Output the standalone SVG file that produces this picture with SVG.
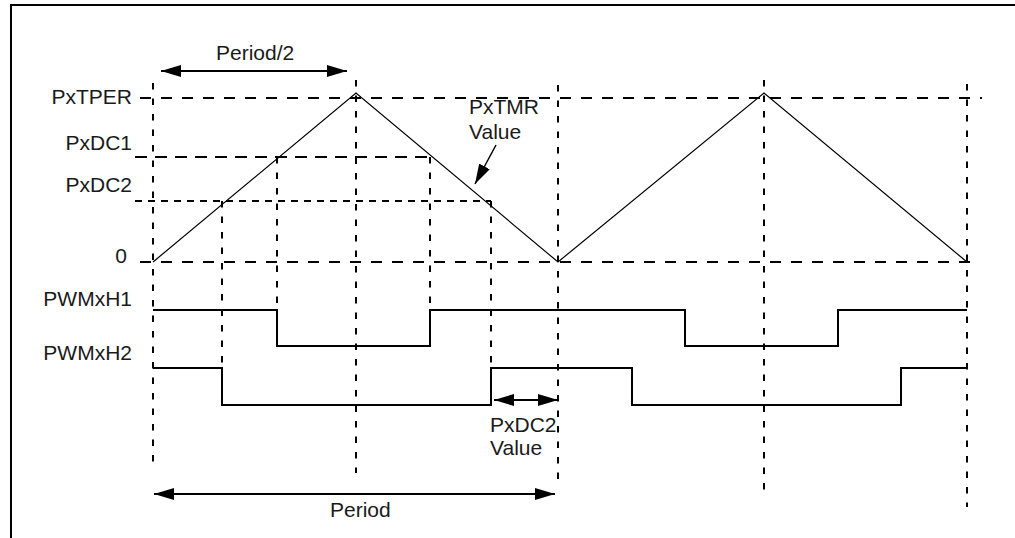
<svg xmlns="http://www.w3.org/2000/svg" width="1015" height="538" viewBox="0 0 1015 538">
<style>
  text { font-family: "Liberation Sans", Arial, sans-serif; font-size: 21px; fill: #1a1a1a; }
  .lbl { text-anchor: end; }
  .frame { stroke: #000; stroke-width: 2; fill: none; }
  .vdot { stroke: #000; stroke-width: 2; stroke-dasharray: 6.5 9; fill: none; }
  .hdash { stroke: #000; stroke-width: 2; stroke-dasharray: 11 10; fill: none; }
  .hdc1 { stroke: #000; stroke-width: 2; stroke-dasharray: 12 8; fill: none; }
  .hdc2 { stroke: #000; stroke-width: 2; stroke-dasharray: 7 6; fill: none; }
  .tri { stroke: #000; stroke-width: 1.2; fill: none; }
  .wave { stroke: #000; stroke-width: 2; fill: none; }
  .dim { stroke: #000; stroke-width: 2; fill: none; marker-start: url(#ah); marker-end: url(#ah); }
  .ptr { stroke: #000; stroke-width: 1.5; fill: none; marker-end: url(#ah); }
</style>
<defs>
  <marker id="ah" markerUnits="userSpaceOnUse" markerWidth="20" markerHeight="12" refX="20" refY="6" orient="auto-start-reverse" viewBox="0 0 20 12">
    <path d="M0,0 L20,6 L0,12 Z" fill="#000"/>
  </marker>
</defs>
<rect width="1015" height="538" fill="#fff"/>
<g id="frame">
  <path class="frame" d="M11,538 L11,5 L1015,5"/>
</g>
<g id="gridlines">
  <line class="vdot" x1="153" y1="83" x2="153" y2="470"/>
  <line class="vdot" x1="222" y1="201" x2="222" y2="405"/>
  <line class="vdot" x1="277" y1="157" x2="277" y2="310"/>
  <line class="vdot" x1="356" y1="80" x2="356" y2="473"/>
  <line class="vdot" x1="430" y1="157" x2="430" y2="310"/>
  <line class="vdot" x1="491" y1="201" x2="491" y2="368"/>
  <line class="vdot" x1="558" y1="85" x2="558" y2="484"/>
  <line class="vdot" x1="764" y1="80" x2="764" y2="493"/>
  <line class="vdot" x1="967" y1="84" x2="967" y2="507"/>
  <line class="hdash" x1="140" y1="98" x2="982" y2="98"/>
  <line class="hdc1" x1="135" y1="157" x2="430" y2="157"/>
  <line class="hdc2" x1="135" y1="201" x2="491" y2="201"/>
  <line class="hdash" x1="140" y1="262" x2="976" y2="262"/>
</g>
<g id="timer">
  <polyline class="tri" points="153,262 356,93 558,262 764,93 967,262"/>
</g>
<g id="pwmxh1">
  <polyline class="wave" points="153,310 277,310 277,346 430,346 430,310 685,310 685,346 838,346 838,310 967,310"/>
</g>
<g id="pwmxh2">
  <polyline class="wave" points="153,368 222,368 222,405 491,405 491,368 632,368 632,405 901,405 901,368 967,368"/>
</g>
<g id="labels">
  <text class="lbl" x="132" y="104">PxTPER</text>
  <text class="lbl" x="132" y="150">PxDC1</text>
  <text class="lbl" x="132" y="192">PxDC2</text>
  <text class="lbl" x="127" y="263">0</text>
  <text class="lbl" x="132" y="306">PWMxH1</text>
  <text class="lbl" x="132" y="360">PWMxH2</text>
</g>
<g id="period-half">
  <text x="216" y="60">Period/2</text>
</g>
<g id="pxtmr-note">
  <text x="469" y="114">PxTMR</text>
  <text x="469" y="139">Value</text>
</g>
<g id="pxdc2-note">
  <text x="490" y="432">PxDC2</text>
  <text x="490" y="455">Value</text>
</g>
<g id="period">
  <text x="330" y="517">Period</text>
</g>
<g id="connectors">
  <line class="dim" x1="161" y1="71" x2="347" y2="71"/>
  <line class="ptr" x1="496" y1="145" x2="475" y2="184"/>
  <line class="dim" x1="494" y1="400" x2="558" y2="400"/>
  <line class="dim" x1="154" y1="494" x2="555" y2="494"/>
</g>
</svg>
